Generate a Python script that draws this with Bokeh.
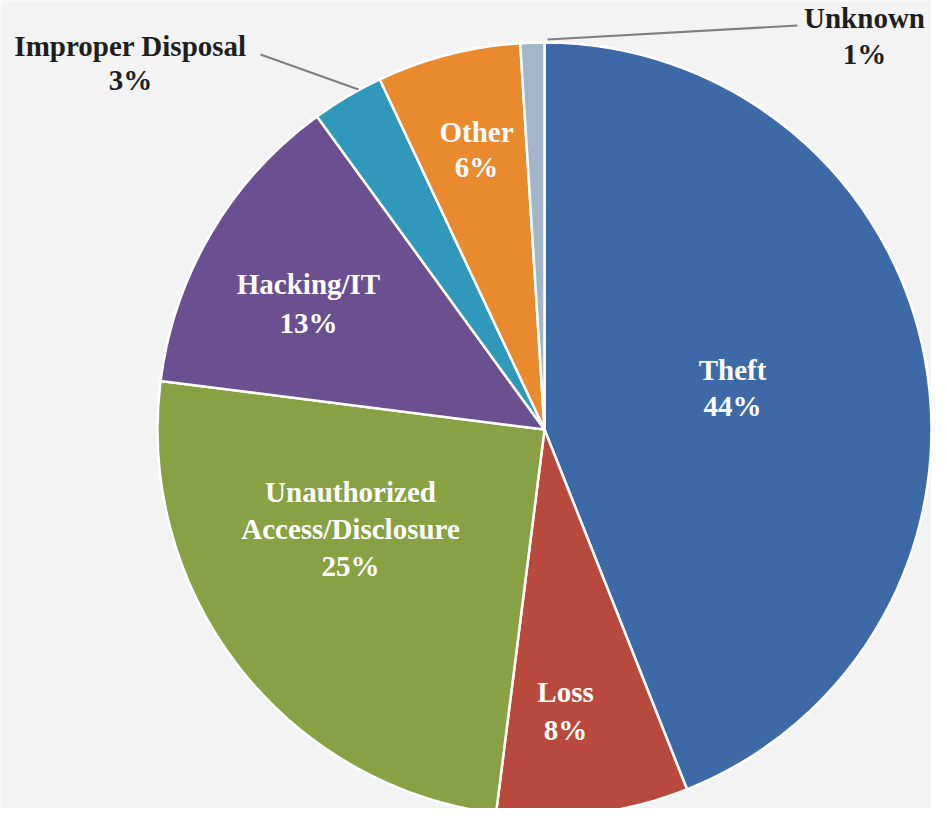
import math
from bokeh.plotting import figure
from bokeh.models import Range1d, ColumnDataSource
from bokeh.core.properties import value
from bokeh.embed import file_html
from bokeh.resources import INLINE

# ---- data ----
categories = ["Theft", "Loss", "Unauthorized Access/Disclosure", "Hacking/IT",
              "Improper Disposal", "Other", "Unknown"]
shares = [44, 8, 25, 13, 3, 6, 1]
label_lines = [["Theft", "44%"], ["Loss", "8%"],
               ["Unauthorized", "Access/Disclosure", "25%"],
               ["Hacking/IT", "13%"], ["Improper Disposal", "3%"],
               ["Other", "6%"], ["Unknown", "1%"]]

# ---- style / layout ----
colors = ["#3d6aa6", "#b9493d", "#88a144", "#6a5091", "#2f98bb", "#e98a2e", "#a3b6c9"]
inside = [True, True, True, True, False, True, False]
# label anchor (centre of the text block) in page pixels
label_anchor = [(740, 395), (573, 718), (358, 536), (316, 311), (138, 70), (484, 157), (872, 43)]
line_gap = [36, 38, 37, 39, 34, 35, 36]
leaders = {4: ((268, 62), (366, 97)), 6: ((555, 47), (805, 33))}

W, H = 931, 808
def Y(py):
    return 824 - py

cx, cy, r = 552, Y(437), 387

p = figure(width=W, height=H, x_range=Range1d(8, 8 + W), y_range=Range1d(8, 8 + H),
           output_backend="svg", toolbar_location=None, min_border=0)
p.axis.visible = False
p.grid.visible = False
p.outline_line_color = None
p.background_fill_color = "#f3f3f3"
p.border_fill_color = "#f3f3f3"

total = float(sum(shares))
starts, ends = [], []
cum = 0.0
for s in shares:
    a0 = math.pi / 2 - 2 * math.pi * cum / total
    cum += s
    a1 = math.pi / 2 - 2 * math.pi * cum / total
    starts.append(a1)
    ends.append(a0)

src = ColumnDataSource(dict(x=[cx] * len(shares), y=[cy] * len(shares),
                            start=starts, end=ends, color=colors, cat=categories))
p.wedge(x="x", y="y", radius=r, start_angle="start", end_angle="end",
        direction="anticlock", fill_color="color", line_color="white",
        line_width=2.5, source=src)

for i, (a, b) in leaders.items():
    p.line([a[0], b[0]], [Y(a[1]), Y(b[1])], line_color="#7f7f7f", line_width=2)

for i, lines in enumerate(label_lines):
    ax, ay = label_anchor[i]
    n = len(lines)
    g = line_gap[i]
    ys = [Y(ay + (k - (n - 1) / 2) * g) for k in range(n)]
    p.text(x=[ax] * n, y=ys, text=lines,
           text_font=value("Liberation Serif"), text_font_style="bold",
           text_font_size="29px", text_align="center", text_baseline="middle",
           text_color="white" if inside[i] else "#1e1e1e")

open("out.html", "w").write(file_html(p, INLINE))
